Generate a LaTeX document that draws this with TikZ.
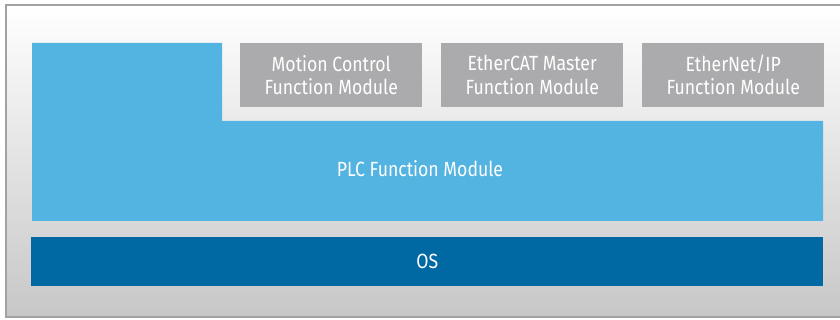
\documentclass[tikz,border=0pt]{standalone}
\usepackage{fontspec}
\setmainfont{Fira Sans}[FakeStretch=0.86]
\usepackage{tikz}
\definecolor{plcblue}{HTML}{53B3E1}
\definecolor{osblue}{HTML}{0069A3}
\definecolor{modgrey}{HTML}{ABABAD}
\definecolor{framegrey}{HTML}{A2A2A2}
\tikzset{
  modbox/.style={fill=modgrey,text=white,minimum width=136.5pt,minimum height=47.5pt,inner sep=0pt,align=center,font=\fontsize{15.4}{17.4}\selectfont},
  lbl/.style={text=white,inner sep=0pt,font=\fontsize{15.4}{17.4}\selectfont}
}
\begin{document}
\begin{tikzpicture}[x=0.75pt,y=0.75pt,yscale=-1,xscale=1]
\useasboundingbox (0,0) rectangle (840,320);
\clip (0,0) rectangle (840,320);

%Shape: outer frame
\draw [framegrey,line width=1.2pt,top color=white,middle color=white!96!black,bottom color=black!22] (6,5) rectangle (848,317);

%Shape: PLC block
\fill [plcblue] (32,43) -- (222,43) -- (222,121) -- (823,121) -- (823,221) -- (32,221) -- cycle ;
%Shape: OS bar
\node (os) [fill=osblue,minimum width=594pt,minimum height=36.75pt,inner sep=0pt,anchor=north west] at (31,237) {};

% Function modules
\node (motion) [modbox,anchor=north west] at (240,43) {Motion Control\\Function Module};
\node (ecat) [modbox,anchor=north west] at (441,43) {EtherCAT Master\\Function Module};
\node (eip) [modbox,anchor=north west] at (642,43) {EtherNet/IP\\Function Module};

% Text Node
\node (plc) [lbl] at (420,169) {PLC Function Module};
% Text Node
\node (ostext) [lbl] at (os.center) {OS};
\end{tikzpicture}
\end{document}
